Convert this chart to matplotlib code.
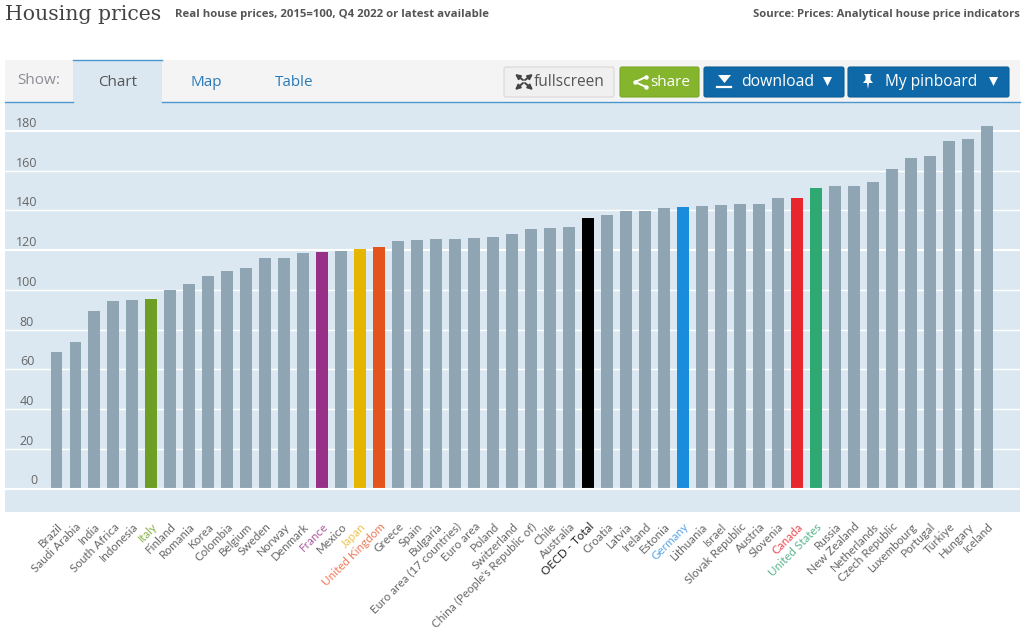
import matplotlib
matplotlib.use("Agg")
import matplotlib.pyplot as plt
from matplotlib.patches import Rectangle, FancyBboxPatch, Polygon

countries = ["Brazil","Saudi Arabia","India","South Africa","Indonesia","Italy","Finland","Romania","Korea","Colombia",
 "Belgium","Sweden","Norway","Denmark","France","Mexico","Japan","United Kingdom","Greece","Spain","Bulgaria",
 "Euro area (17 countries)","Euro area","Poland","Switzerland","China (People's Republic of)","Chile","Australia",
 "OECD - Total","Croatia","Latvia","Ireland","Estonia","Germany","Lithuania","Israel","Slovak Republic","Austria",
 "Slovenia","Canada","United States","Russia","New Zealand","Netherlands","Czech Republic","Luxembourg","Portugal",
 "Türkiye","Hungary","Iceland"]
values = [68.5,74,89.5,94.5,95,95.5,100,103,107,109.5,111,116,116,118.5,119,119.5,120.5,121.5,124.5,125,125.5,125.5,
 126,126.5,128,130.5,131,131.5,136,137.5,139.5,139.5,141,141.5,142,143,143.5,143.5,146.5,146.5,151.5,152.5,152.5,
 154.5,161,166.5,167.5,175,176,182.5]
highlights = {"Italy":"#6f9e25","France":"#993088","Japan":"#e6b500","United Kingdom":"#e5531c","OECD - Total":"#000000",
 "Germany":"#1a8cdc","Canada":"#e8262d","United States":"#2fa872"}
label_colors = {"Italy":"#88b04b","France":"#ad5aa0","Japan":"#efc24a","United Kingdom":"#ee7a5a","OECD - Total":"#222222",
 "Germany":"#5aa5e5","Canada":"#ee4a50","United States":"#5ab58c"}
yticks = list(range(0,181,20))
thick_ticks = [0,120,180]
BAR = "#90a5b3"; PANEL = "#dce8f1"; SANS = "Open Sans"

W, H = 1024, 640
fig = plt.figure(figsize=(W/100, H/100), dpi=100, facecolor="white")

L, R, T, B = 5, 1020, 102, 512
ax = fig.add_axes([L/W, 1-B/H, (R-L)/W, (B-T)/H])
ax.set_facecolor(PANEL)
ax.set_ylim((488.5-B)/1.986, (488.5-T)/1.986)
ax.set_xlim((L-56.5)/18.99, (R-56.5)/18.99)
for s in ax.spines.values():
    s.set_visible(False)
colors = [highlights.get(c, BAR) for c in countries]
xs = list(range(len(countries)))
ax.bar(xs, values, width=0.63, color=colors, zorder=3)
for v in yticks:
    ax.axhline(v, color="white", lw=1.5 if v in thick_ticks else 1.0, zorder=2)
    ax.annotate(str(v), (0, v), xycoords=("axes fraction","data"), xytext=(22 if v else 29, 7.5), textcoords="offset pixels",
                fontsize=9, color="#666666", family=SANS, ha="center", va="center", zorder=4)
ax.axhline(0, color="white", lw=1.5, zorder=4)
ax.set_yticks([])
ax.set_xticks(xs)
ax.set_xticklabels(countries, rotation=45, ha="right", rotation_mode="anchor", fontsize=8.4, family="Lato")
ax.tick_params(axis="x", length=0, pad=6.5)
for lab, c in zip(ax.get_xticklabels(), countries):
    lab.set_color(label_colors.get(c, "#666666"))

# page chrome in pixel coordinates
ov = fig.add_axes([0,0,1,1], facecolor="none")
ov.set_xlim(0,W); ov.set_ylim(H,0); ov.axis("off")
ov.text(5, 14, "Housing prices", fontsize=14.7, family="DejaVu Serif", color="#444444", va="center")
ov.text(175, 14.5, "Real house prices, 2015=100, Q4 2022 or latest available", fontsize=8.2, family=SANS,
        weight="bold", color="#555555", va="center")
ov.text(1020, 14.5, "Source: Prices: Analytical house price indicators", fontsize=8.1, family=SANS,
        weight="bold", color="#555555", va="center", ha="right")
ov.add_patch(Rectangle((5,60),1015,42,fc="#f4f4f4",ec="none"))
ov.plot([5,73],[102,102],color="#4a97d0",lw=1)
ov.plot([162,1020],[102,102],color="#4a97d0",lw=1)
ov.add_patch(Rectangle((73,60),89,43,fc=PANEL,ec="none"))
ov.plot([73,162],[60,60],color="#4a97d0",lw=1)
ov.text(17,80,"Show:",fontsize=11,family=SANS,color="#8c8c96",va="center")
ov.text(117.5,82.5,"Chart",fontsize=11,family=SANS,color="#555555",va="center",ha="center")
ov.text(206.5,82.5,"Map",fontsize=11,family=SANS,color="#2a7ab8",va="center",ha="center")
ov.text(294.5,82.5,"Table",fontsize=11,family=SANS,color="#2a7ab8",va="center",ha="center")

def button(x0,x1,fc,ec):
    ov.add_patch(FancyBboxPatch((x0+2,69),x1-x0-4,26,boxstyle="round,pad=2",fc=fc,ec=ec,lw=0.8))
button(504,614,"#f0f0f0","#d8d8d8")
button(620,699,"#85b52c","#7aa828")
button(704,844,"#0f69a8","#0c5f98")
button(848,1009,"#0f69a8","#0c5f98")
ov.text(534,82.5,"fullscreen",fontsize=11.2,family=SANS,color="#555555",va="center")
ov.text(650,82.5,"share",fontsize=11,family=SANS,color="white",va="center")
ov.text(741,82.5,"download",fontsize=11.3,family=SANS,color="white",va="center")
ov.text(885,82.5,"My pinboard",fontsize=11.2,family=SANS,color="white",va="center")
# icons
for (a,b) in [((515,74),(523,80)),((533,74),(525,80)),((515,90),(523,83)),((533,90),(525,83))]:
    ov.annotate("",xy=a,xytext=b,arrowprops=dict(arrowstyle="-|>",color="#444444",lw=1.4,mutation_scale=7,shrinkA=0,shrinkB=0))
ov.plot([646,635,646],[77,82,87],color="white",lw=1.4,marker="o",ms=2.2)
ov.add_patch(Polygon([[718,75],[731,75],[724.5,83]],fc="white"))
ov.plot([717,731],[87,87],color="white",lw=1.6)
for x0 in (827,993):
    ov.add_patch(Polygon([[x0-4,77],[x0+5,77],[x0+0.5,86]],fc="white"))
ov.add_patch(Polygon([[864,74],[872,74],[870.5,76],[870.5,80],[873,83],[869,83],[868,89],[867,83],[863,83],[865.5,80],[865.5,76]],fc="white"))

fig.savefig("out.png", dpi=100, facecolor="white")
